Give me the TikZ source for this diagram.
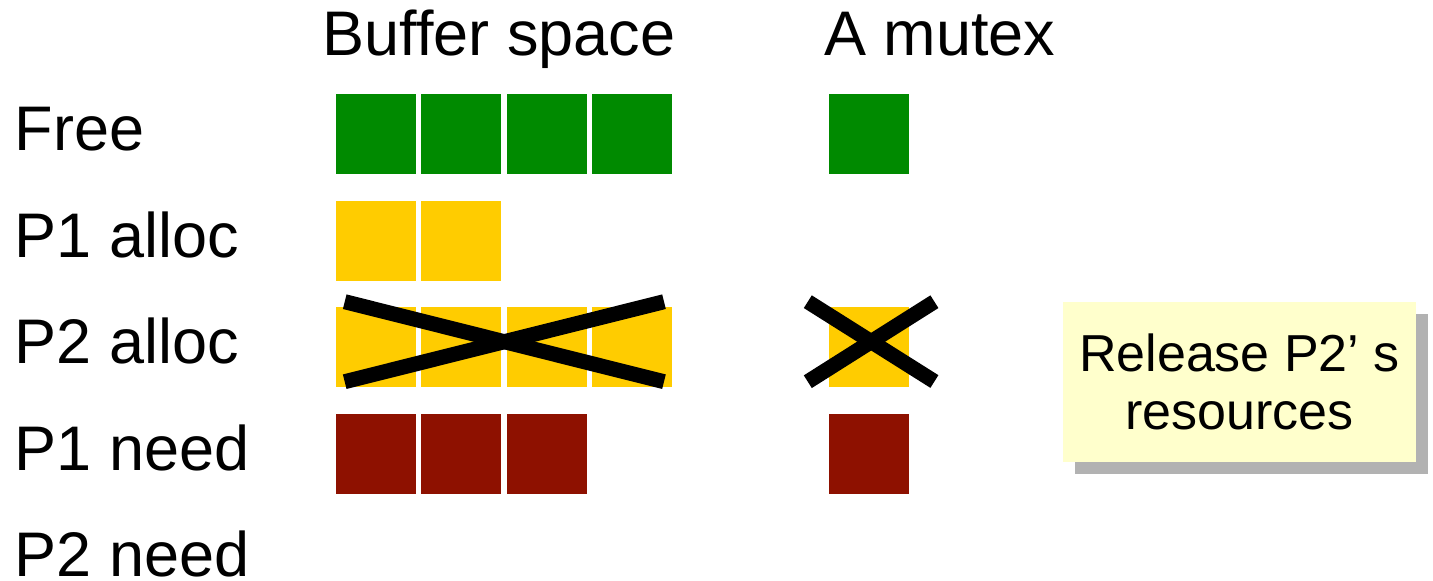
\documentclass[tikz,border=0pt]{standalone}
\usepackage{fontspec}
\setmainfont{Liberation Sans}
\usetikzlibrary{shadows}
\definecolor{freegreen}{HTML}{008A00}
\definecolor{allocyellow}{HTML}{FFCC00}
\definecolor{needred}{HTML}{8E1100}
\definecolor{notefill}{HTML}{FFFFCC}
\definecolor{shadowgray}{HTML}{B2B2B2}
\begin{document}
\begin{tikzpicture}[x=1pt,y=-1pt,
  cell/.style={draw=none, minimum size=80pt, inner sep=0pt, outer sep=0pt, anchor=north west},
  lbl/.style={anchor=base west, inner sep=0pt, font=\fontsize{63}{70}\selectfont},
  xline/.style={line width=15pt, black},
  note/.style={fill=notefill, minimum width=352.5pt, minimum height=160pt, inner sep=0pt, align=center,
    font=\fontsize{52}{58}\selectfont,
    drop shadow={shadow xshift=12pt, shadow yshift=-12pt, fill=shadowgray, opacity=1}}]
\useasboundingbox (0,0) rectangle (1433,581);
% row labels
\node[lbl] (free) at (14.5,150) {Free};
\node[lbl] (p1a) at (14.5,257) {P1 alloc};
\node[lbl] (p2a) at (14.5,363) {P2 alloc};
\node[lbl] (p1n) at (14.5,470) {P1 need};
\node[lbl] (p2n) at (14.5,576.5) {P2 need};
% column headers
\node[lbl] (buf) at (322.5,55) {Buffer space};
\node[lbl] (mut) at (824,55) {A mutex};
% buffer cells
\foreach \i in {0,...,3} \node[cell, fill=freegreen] (f\i) at ({336+85.33*\i},94) {};
\foreach \i in {0,1} \node[cell, fill=allocyellow] (a\i) at ({336+85.33*\i},200.67) {};
\foreach \i in {0,...,3} \node[cell, fill=allocyellow] (b\i) at ({336+85.33*\i},307.33) {};
\foreach \i in {0,...,2} \node[cell, fill=needred] (n\i) at ({336+85.33*\i},414) {};
% mutex cells
\node[cell, fill=freegreen] (mf) at (829,94) {};
\node[cell, fill=allocyellow] (mb) at (829,307.33) {};
\node[cell, fill=needred] (mn) at (829,414) {};
% crosses
\draw[xline] (344.7,301.7) -- (664,381.7);
\draw[xline] (344.7,381.7) -- (664,301.7);
\draw[xline] (807.8,301.7) -- (934.4,381.5);
\draw[xline] (807.8,381.7) -- (934.4,301.7);
% note
\node[note] (rel) at (1239.5,381.7) {Release P2’ s\\resources};
\end{tikzpicture}
\end{document}
